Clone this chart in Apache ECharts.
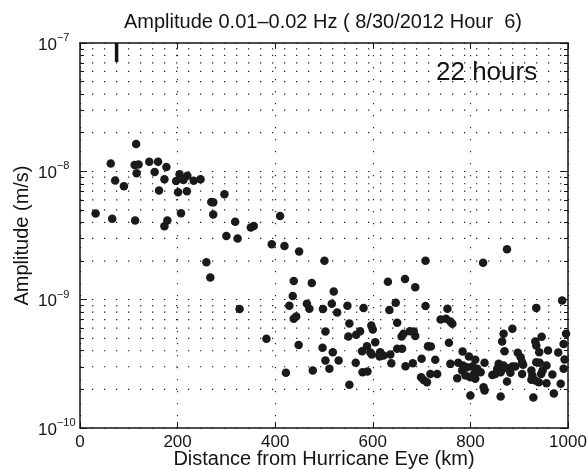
<!DOCTYPE html>
<html>
<head>
<meta charset="utf-8">
<script src="https://cdn.jsdelivr.net/npm/echarts@6/dist/echarts.min.js"></script>
<style>
  html, body { margin: 0; padding: 0; background: #fff; }
  #chart { width: 588px; height: 470px; }
</style>
</head>
<body>
<div id="chart"></div>
<script>
// ---------- data ----------
const chartTitle = 'Amplitude 0.01\u20130.02 Hz ( 8/30/2012 Hour  6)';
const xAxisTitle = 'Distance from Hurricane Eye (km)';
const yAxisTitle = 'Amplitude (m/s)';
const annotationText = '22 hours';

const xTickValues = [0, 200, 400, 600, 800, 1000];
const yTickExponents = [-10, -9, -8, -7];

// distance from hurricane eye (km)
const distanceKm = [
  115, 63, 112, 120, 142, 160, 177, 153, 116, 72,
  90, 173, 204, 197, 212, 220, 233, 247, 162, 201,
  219, 296, 269, 273, 32, 66, 113, 207, 273, 179,
  173, 318, 300, 323, 350, 356, 410, 393, 419, 449,
  259, 267, 501, 708, 826, 875, 438, 475, 520, 631,
  666, 687, 436, 429, 327, 465, 470, 498, 516, 527,
  548, 581, 634, 647, 708, 753, 988, 935, 438, 443,
  552, 503, 550, 566, 574, 597, 600, 650, 659, 663,
  676, 687, 684, 739, 750, 759, 763, 756, 713, 719,
  382, 448, 497, 518, 503, 530, 511, 477, 552, 565,
  578, 588, 605, 595, 598, 579, 589, 615, 622, 614,
  636, 638, 650, 660, 667, 682, 700, 699, 704, 711,
  718, 732, 728, 759, 773, 775, 784, 422, 797, 810,
  829, 785, 793, 783, 804, 814, 821, 807, 800, 810,
  790, 845, 851, 858, 855, 862, 875, 886, 892, 882,
  906, 908, 925, 927, 925, 933, 940, 945, 948, 956,
  942, 935, 968, 991, 993, 985, 956, 875, 827, 829,
  800, 862, 929, 971, 886, 868, 865, 870, 897, 903,
  906, 946, 933, 935, 941, 959, 980, 996, 991, 868
];

// amplitude (m/s)
const amplitudeMs = [
  1.63e-8, 1.15e-8, 1.12e-8, 1.13e-8, 1.19e-8, 1.19e-8, 1.08e-8, 9.9e-9, 9.65e-9, 8.5e-9,
  7.65e-9, 8.66e-9, 9.47e-9, 8.39e-9, 8.55e-9, 9.22e-9, 8.45e-9, 8.68e-9, 7.08e-9, 6.87e-9,
  7.01e-9, 6.62e-9, 5.76e-9, 5.73e-9, 4.70e-9, 4.28e-9, 4.14e-9, 4.72e-9, 4.61e-9, 4.13e-9,
  3.74e-9, 4.04e-9, 3.13e-9, 3.00e-9, 3.65e-9, 3.75e-9, 4.48e-9, 2.70e-9, 2.62e-9, 2.37e-9,
  1.96e-9, 1.49e-9, 2.01e-9, 2.01e-9, 1.94e-9, 2.47e-9, 1.40e-9, 1.35e-9, 1.16e-9, 1.38e-9,
  1.45e-9, 1.25e-9, 1.07e-9, 8.98e-10, 8.47e-10, 9.31e-10, 8.5e-10, 8.45e-10, 9.31e-10, 7.96e-10,
  8.95e-10, 8.6e-10, 8.29e-10, 9.47e-10, 8.91e-10, 8.5e-10, 9.84e-10, 8.63e-10, 7.1e-10, 7.4e-10,
  6.53e-10, 5.65e-10, 5.17e-10, 5.33e-10, 5.68e-10, 6.3e-10, 5.86e-10, 6.61e-10, 5.17e-10, 5.42e-10,
  5.68e-10, 5.2e-10, 5.65e-10, 7.01e-10, 7.1e-10, 6.77e-10, 6.49e-10, 4.61e-10, 4.34e-10, 4.32e-10,
  4.96e-10, 4.43e-10, 4.22e-10, 3.9e-10, 3.36e-10, 3.36e-10, 2.89e-10, 2.8e-10, 2.17e-10, 3.22e-10,
  3.97e-10, 4.34e-10, 4.66e-10, 3.88e-10, 3.74e-10, 2.72e-10, 2.75e-10, 3.9e-10, 3.67e-10, 3.6e-10,
  3.74e-10, 3.2e-10, 4.14e-10, 4.14e-10, 3.03e-10, 3.2e-10, 3.46e-10, 2.49e-10, 2.37e-10, 2.27e-10,
  2.64e-10, 2.64e-10, 3.4e-10, 3.16e-10, 2.44e-10, 3.22e-10, 3.95e-10, 2.70e-10, 3.6e-10, 3.4e-10,
  3.22e-10, 3.07e-10, 2.97e-10, 2.8e-10, 3.01e-10, 2.89e-10, 2.72e-10, 2.64e-10, 2.49e-10, 2.42e-10,
  2.56e-10, 2.59e-10, 2.64e-10, 3.16e-10, 2.89e-10, 2.72e-10, 2.92e-10, 3.01e-10, 3.01e-10, 2.69e-10,
  2.64e-10, 3.11e-10, 2.8e-10, 2.56e-10, 2.38e-10, 2.34e-10, 2.27e-10, 2.64e-10, 2.8e-10, 3.07e-10,
  3.22e-10, 3.26e-10, 2.61e-10, 2.89e-10, 3.42e-10, 2.21e-10, 2.23e-10, 2.3e-10, 2.08e-10, 1.96e-10,
  1.79e-10, 1.76e-10, 1.73e-10, 1.86e-10, 5.94e-10, 5.42e-10, 4.72e-10, 3.97e-10, 3.85e-10, 3.56e-10,
  3.26e-10, 5.14e-10, 4.72e-10, 4.4e-10, 3.9e-10, 4.02e-10, 3.88e-10, 5.42e-10, 4.52e-10, 3.07e-10
];

// short vertical bar drawn at the top of the plot
const markerBarKm = [75, 75];
const markerBarAmp = [1e-7, 7.1e-8];

// log-decade minor grid lines
const minorGridValues = [
  2e-10, 3e-10, 4e-10, 5e-10, 6e-10, 7e-10, 8e-10, 9e-10,
  2e-9, 3e-9, 4e-9, 5e-9, 6e-9, 7e-9, 8e-9, 9e-9,
  2e-8, 3e-8, 4e-8, 5e-8, 6e-8, 7e-8, 8e-8, 9e-8
];

// ---------- chart ----------
const FONT = '"Liberation Sans", Arial, Helvetica, sans-serif';
const INK = '#141414';
const DOTS = { type: [1.3, 10.7], color: '#222222', width: 1.2 };

const points = distanceKm.map((d, i) => [d, amplitudeMs[i]]);
const barData = markerBarKm.map((d, i) => [d, markerBarAmp[i]]);

const chart = echarts.init(document.getElementById('chart'), null, { renderer: 'canvas' });

const xMin = xTickValues[0], xMax = xTickValues[xTickValues.length - 1];
const yMin = Math.pow(10, yTickExponents[0]);
const yMax = Math.pow(10, yTickExponents[yTickExponents.length - 1]);

function expLabel(v) {
  const e = Math.round(Math.log10(v));
  return '{b|10}{s|' + (e < 0 ? '\u2212' : '') + Math.abs(e) + '}';
}

// one dotted horizontal line per minor grid value, spanning the x range
const minorGridSeries = minorGridValues.map(v => ({
  name: 'grid ' + v, type: 'line', silent: true, z: 1,
  xAxisIndex: 0, yAxisIndex: 0, symbol: 'none',
  data: [[xMin, v], [xMax, v]],
  lineStyle: { type: [1.3, 10.7], color: '#222222', width: 1.2 },
  emphasis: { disabled: true }, tooltip: { show: false }
}));

const option = {
  animation: false,
  backgroundColor: '#ffffff',
  title: {
    text: chartTitle,
    left: 323,
    top: 12,
    textAlign: 'center',
    padding: 0,
    textStyle: { fontFamily: FONT, fontSize: 20, fontWeight: 'normal', color: INK, lineHeight: 20 }
  },
  grid: { left: 80, right: 20, top: 43, bottom: 42, containLabel: false, outerBoundsMode: 'none' },
  xAxis: [
    {
      type: 'value', min: xMin, max: xMax, interval: 200, position: 'bottom',
      name: xAxisTitle, nameLocation: 'middle', nameGap: 21, nameMoveOverlap: false,
      nameTextStyle: { fontFamily: FONT, fontSize: 20, color: INK },
      axisLine: { show: true, onZero: false, lineStyle: { color: INK, width: 1.5 } },
      axisTick: { show: true, inside: true, length: 6, lineStyle: { color: INK, width: 1 } },
      axisLabel: { margin: 6, fontFamily: FONT, fontSize: 17, color: INK, formatter: v => String(v) },
      splitLine: { show: true, lineStyle: DOTS }
    },
    {
      type: 'value', min: xMin, max: xMax, interval: 200, position: 'top',
      axisLine: { show: true, onZero: false, lineStyle: { color: INK, width: 1.5 } },
      axisTick: { show: true, inside: true, length: 6, lineStyle: { color: INK, width: 1 } },
      axisLabel: { show: false },
      splitLine: { show: false }
    }
  ],
  yAxis: [
    {
      type: 'log', logBase: 10, min: yMin, max: yMax, splitNumber: 3, position: 'left',
      name: yAxisTitle, nameLocation: 'middle', nameGap: 48, nameRotate: 90, nameMoveOverlap: false,
      nameTextStyle: { fontFamily: FONT, fontSize: 20, color: INK },
      axisLine: { show: true, onZero: false, lineStyle: { color: INK, width: 1.5 } },
      axisTick: { show: true, inside: true, length: 7, lineStyle: { color: INK, width: 1 } },
      minorTick: { show: true, splitNumber: 9, length: 4, lineStyle: { color: INK, width: 1 } },
      axisLabel: {
        margin: 42, align: 'left', formatter: expLabel,
        rich: {
          b: { fontFamily: FONT, fontSize: 17, color: INK, padding: [4, 0, 0, 0] },
          s: { fontFamily: FONT, fontSize: 11, color: INK, verticalAlign: 'top', lineHeight: 11 }
        }
      },
      splitLine: { show: true, lineStyle: DOTS }
    },
    {
      type: 'log', logBase: 10, min: yMin, max: yMax, splitNumber: 3, position: 'right',
      axisLine: { show: true, onZero: false, lineStyle: { color: INK, width: 1.5 } },
      axisTick: { show: true, inside: true, length: 7, lineStyle: { color: INK, width: 1 } },
      minorTick: { show: true, splitNumber: 9, length: 4, lineStyle: { color: INK, width: 1 } },
      axisLabel: { show: false },
      splitLine: { show: false }
    }
  ],
  graphic: [
    {
      type: 'text', left: 436, top: 59.5, z: 10,
      style: { text: annotationText, font: '26px ' + FONT, fill: INK }
    }
  ],
  series: minorGridSeries.concat([
    {
      name: 'marker bar', type: 'line', data: barData, z: 3, silent: true,
      xAxisIndex: 0, yAxisIndex: 0, symbol: 'none',
      lineStyle: { color: INK, width: 3.5 }
    },
    {
      name: 'amplitude', type: 'scatter', data: points, z: 5,
      xAxisIndex: 0, yAxisIndex: 0,
      symbol: 'circle', symbolSize: 8.5,
      itemStyle: { color: '#1a1a1a', opacity: 1 }
    }
  ])
};

chart.setOption(option);
</script>
</body>
</html>
